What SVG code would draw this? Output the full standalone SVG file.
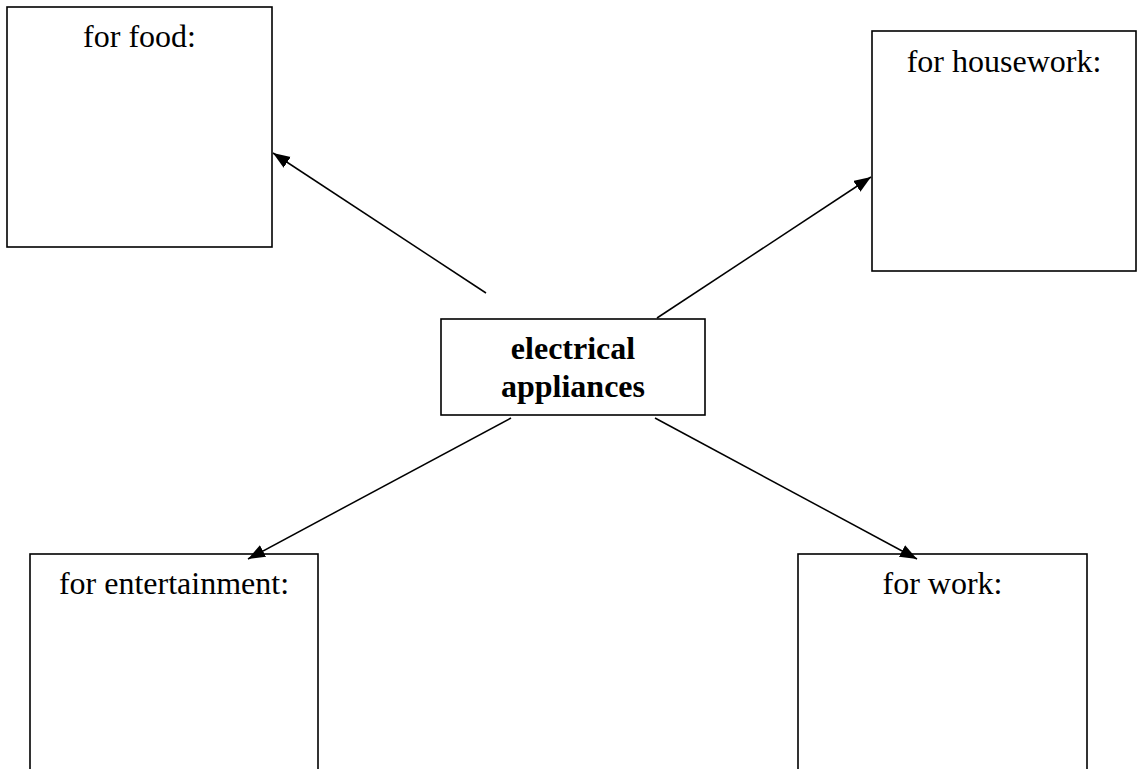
<svg xmlns="http://www.w3.org/2000/svg" width="1137" height="769" viewBox="0 0 1137 769">
  <style>
    .box { fill: #ffffff; stroke: #000000; stroke-width: 1.6; }
    .lbl { font-family: "Liberation Serif", "Times New Roman", serif; font-size: 32px; fill: #000000; text-anchor: middle; }
    .bold { font-weight: bold; }
    .conn { stroke: #000000; stroke-width: 1.5; fill: none; marker-end: url(#arrow); }
  </style>
  <defs>
    <marker id="arrow" markerUnits="userSpaceOnUse" markerWidth="19" markerHeight="14" refX="17" refY="6.5" orient="auto">
      <path d="M0,0 L17,6.5 L0,13 z" fill="#000000"/>
    </marker>
  </defs>
  <rect width="1137" height="769" fill="#ffffff"/>
  <g id="food">
    <rect class="box" x="7" y="7" width="265" height="240"/>
    <text class="lbl" x="139.5" y="47">for food:</text>
  </g>
  <g id="housework">
    <rect class="box" x="872" y="31" width="264" height="240"/>
    <text class="lbl" x="1004" y="72">for housework:</text>
  </g>
  <g id="center">
    <rect class="box" x="441" y="319" width="264" height="96"/>
    <text class="lbl bold" x="573" y="359">electrical</text>
    <text class="lbl bold" x="573" y="397">appliances</text>
  </g>
  <g id="entertainment">
    <rect class="box" x="30" y="554" width="288" height="240"/>
    <text class="lbl" x="174" y="594">for entertainment:</text>
  </g>
  <g id="work">
    <rect class="box" x="798" y="554" width="289" height="240"/>
    <text class="lbl" x="942.5" y="594">for work:</text>
  </g>
  <g id="connectors">
    <line class="conn" x1="486" y1="293" x2="273" y2="153"/>
    <line class="conn" x1="657" y1="318" x2="871" y2="177"/>
    <line class="conn" x1="511" y1="418" x2="248" y2="559"/>
    <line class="conn" x1="655" y1="418" x2="917" y2="559"/>
  </g>
</svg>
